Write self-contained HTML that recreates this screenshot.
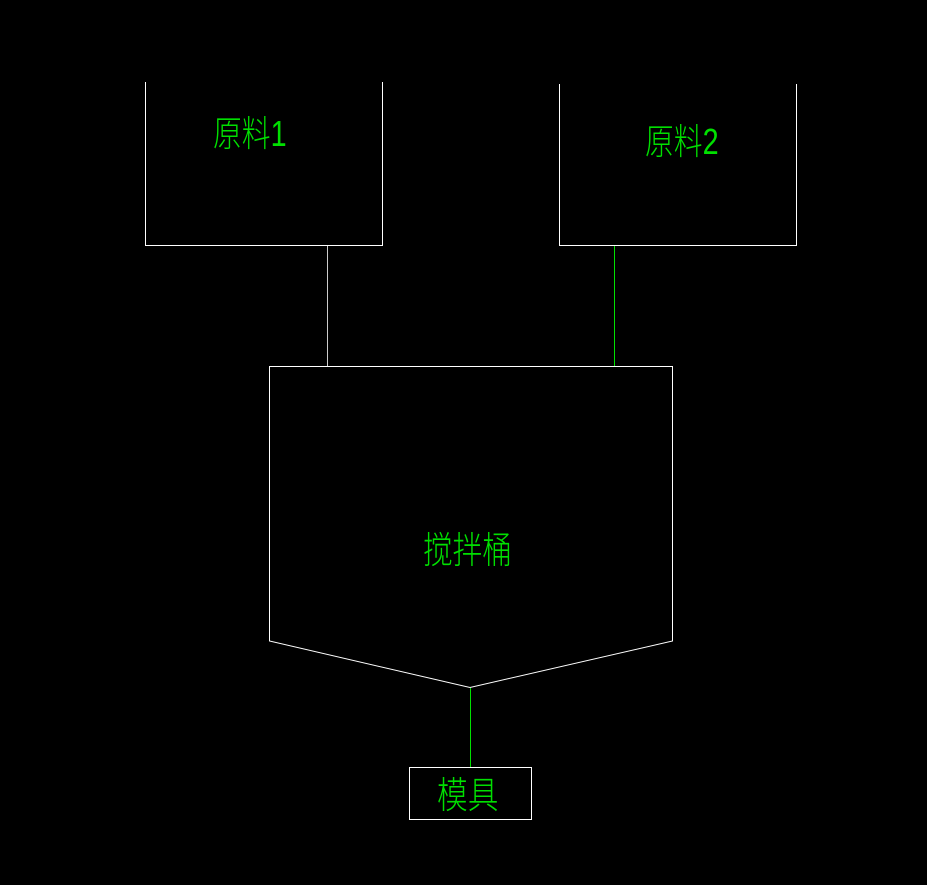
<!DOCTYPE html>
<html><head><meta charset="utf-8"><style>
html,body{margin:0;padding:0;background:#000;width:927px;height:885px;overflow:hidden}
text{font-family:"Liberation Sans","Noto Sans CJK SC",sans-serif;fill:#00e000;font-weight:300}
</style></head><body>
<svg width="927" height="885" viewBox="0 0 927 885" xmlns="http://www.w3.org/2000/svg">
<g fill="none" stroke="#fff" stroke-width="1">
<polyline points="145.5,82 145.5,245.5 382.5,245.5 382.5,82"/>
<polyline points="559.5,84 559.5,245.5 796.5,245.5 796.5,84"/>
<polygon points="269.5,366.5 672.5,366.5 672.5,641 470,687.5 269.5,641"/>
<rect x="409.5" y="767.5" width="122" height="52"/>
<line x1="327.5" y1="246" x2="327.5" y2="366" stroke="#ccc"/>
</g>
<line x1="614.5" y1="246" x2="614.5" y2="366" stroke="#00e000"/>
<line x1="470.5" y1="688" x2="470.5" y2="767" stroke="#00e000"/>
<text x="0" y="0" font-size="36" transform="translate(213,146) scale(0.8,1)">原料1</text>
<text x="0" y="0" font-size="36" transform="translate(645,154) scale(0.8,1)">原料2</text>
<text x="0" y="0" font-size="37" transform="translate(423,563) scale(0.8,1)">搅拌桶</text>
<text x="0" y="0" font-size="37" transform="translate(437,808) scale(0.83,1)">模具</text>
</svg>
</body></html>
